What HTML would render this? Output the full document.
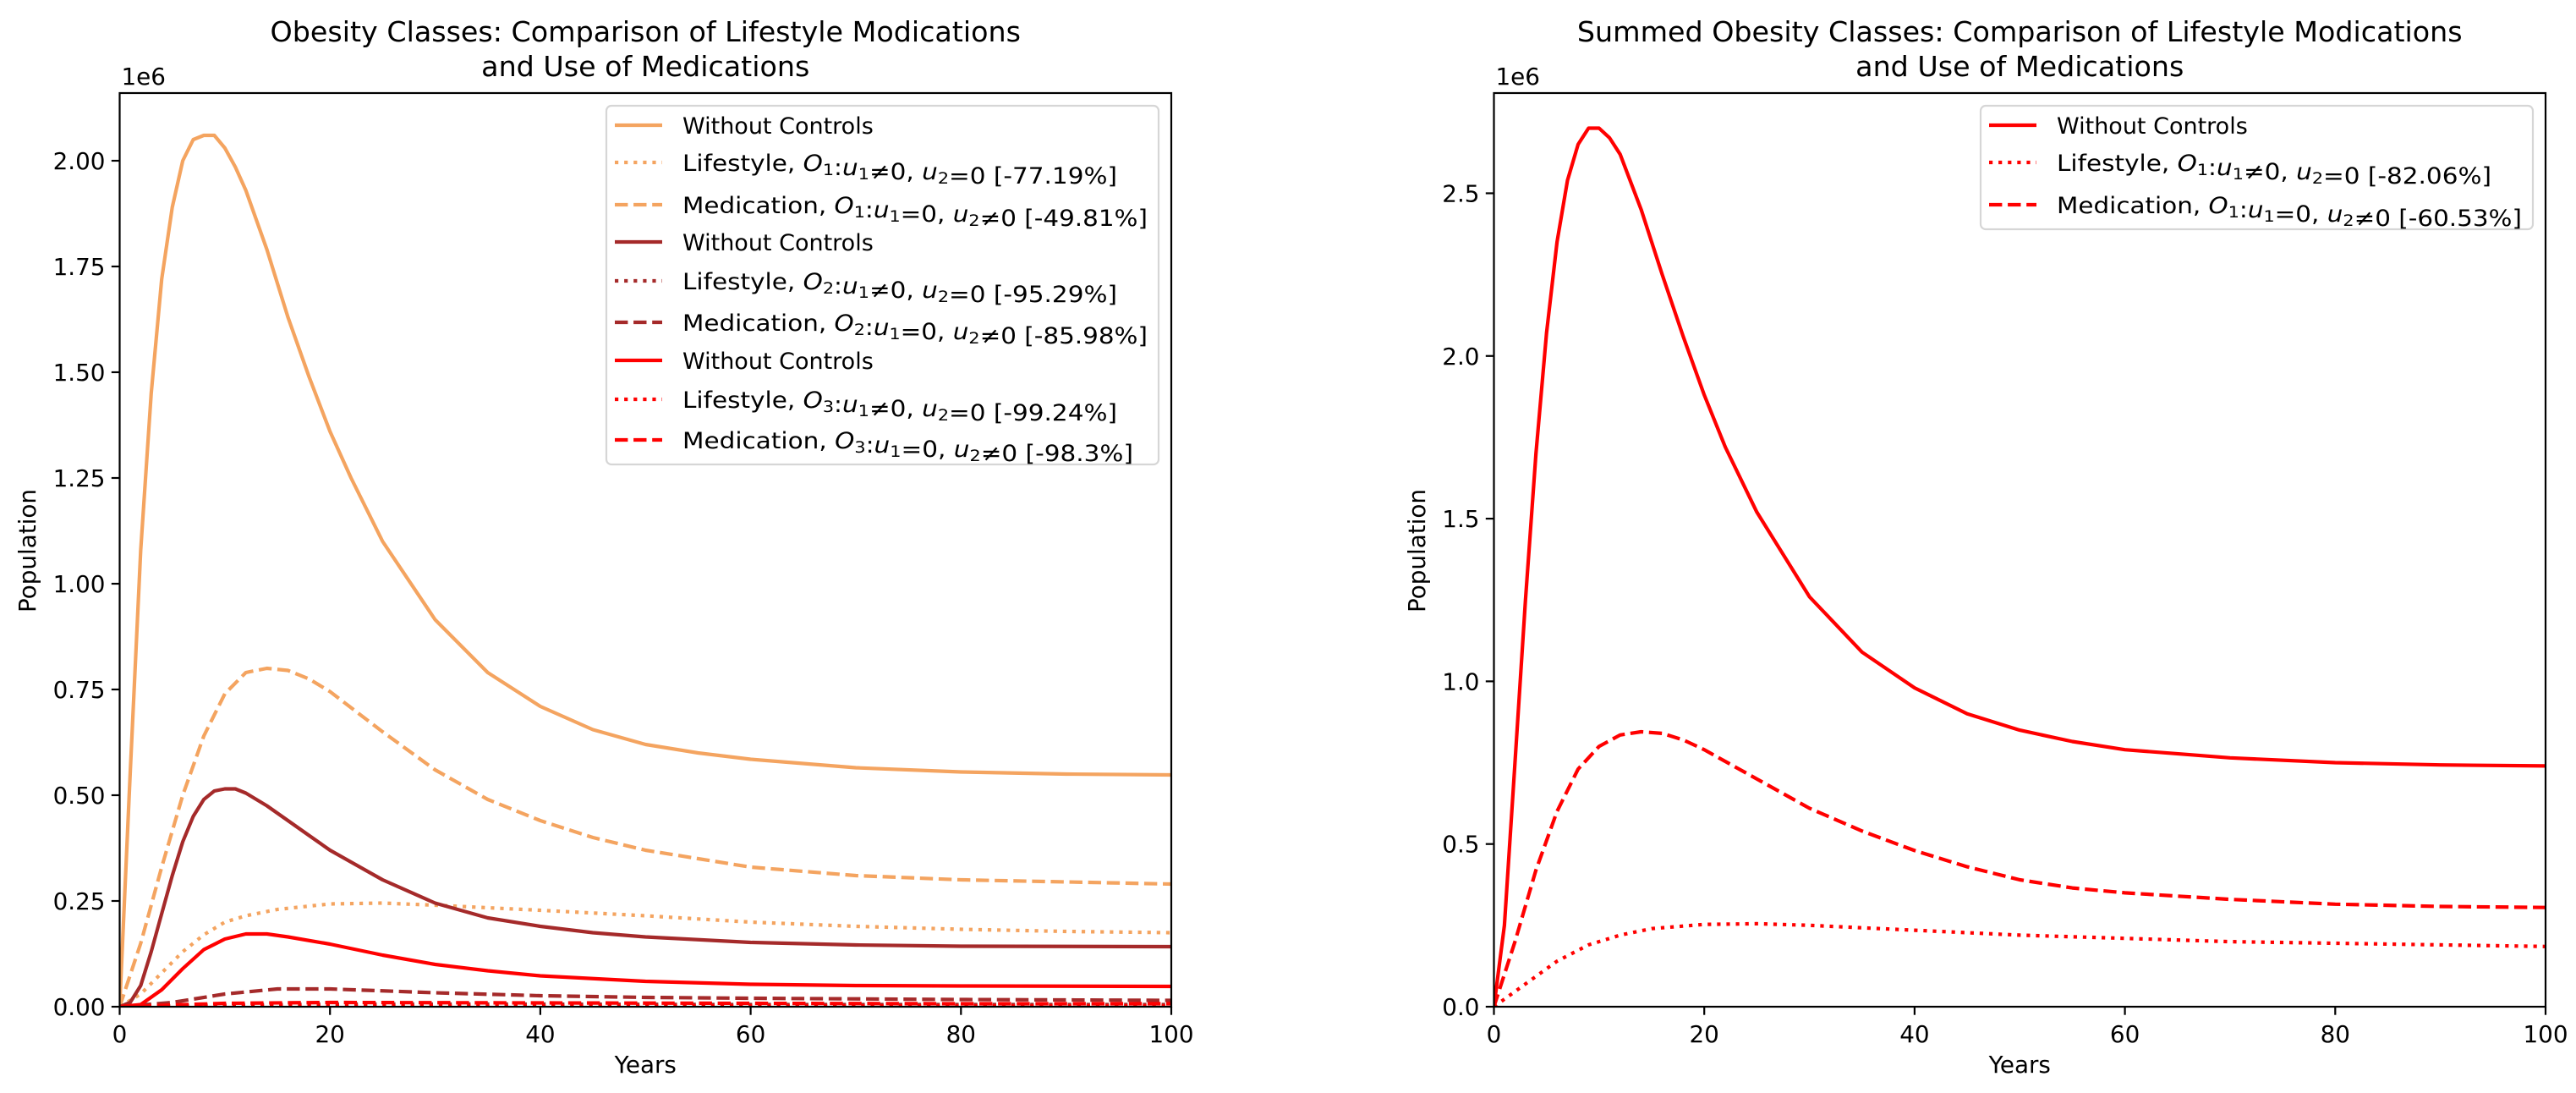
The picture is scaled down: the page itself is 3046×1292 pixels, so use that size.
<!DOCTYPE html>
<html><head><meta charset="utf-8"><style>
html,body{margin:0;padding:0;background:#fff}
svg{display:block;font-family:"DejaVu Sans","Liberation Sans",sans-serif}
</style></head><body>
<svg id="fig" xmlns="http://www.w3.org/2000/svg" width="3046" height="1292" viewBox="0 0 3046 1292">
<rect width="3046" height="1292" fill="#fff"/>
<g id="left"></g>
<g id="right"></g>
</svg>
<script>
// ---- data (population in millions) ----
const yearsO1 = [0,1,2,3,4,5,6,7,8,9,10,11,12,14,16,18,20,22,25,30,35,40,45,50,55,60,70,80,90,100];
const o1None  = [0,0.55,1.08,1.45,1.72,1.89,2.0,2.05,2.06,2.06,2.03,1.985,1.93,1.79,1.63,1.49,1.36,1.25,1.1,0.915,0.79,0.71,0.655,0.62,0.60,0.585,0.565,0.555,0.55,0.548];
const yearsO1Med = [0,2,4,6,8,10,12,14,16,18,20,25,30,35,40,45,50,60,70,80,90,100];
const o1Med   = [0,0.15,0.33,0.5,0.64,0.74,0.79,0.80,0.795,0.775,0.745,0.65,0.56,0.49,0.44,0.40,0.37,0.33,0.31,0.30,0.295,0.29];
const yearsO1Life = [0,2,4,6,8,10,12,15,20,25,30,40,50,60,70,80,90,100];
const o1Life  = [0,0.03,0.08,0.13,0.17,0.20,0.215,0.23,0.243,0.245,0.24,0.228,0.215,0.20,0.19,0.183,0.178,0.175];
const yearsO2 = [0,1,2,3,4,5,6,7,8,9,10,11,12,14,16,18,20,25,30,35,40,45,50,60,70,80,100];
const o2None  = [0,0.01,0.05,0.13,0.22,0.31,0.39,0.45,0.49,0.51,0.515,0.515,0.505,0.475,0.44,0.405,0.37,0.30,0.245,0.21,0.19,0.175,0.165,0.152,0.146,0.143,0.142];
const yearsO2Med = [0,5,10,15,20,30,40,50,60,80,100];
const o2Med   = [0,0.01,0.03,0.042,0.042,0.033,0.026,0.022,0.02,0.017,0.015];
const yearsO2Life = [0,10,20,40,60,80,100];
const o2Life  = [0,0.004,0.006,0.006,0.005,0.005,0.005];
const yearsO3 = [0,2,4,6,8,10,12,14,16,20,25,30,35,40,50,60,70,80,100];
const o3None  = [0,0.005,0.04,0.09,0.135,0.16,0.172,0.172,0.165,0.148,0.122,0.10,0.085,0.073,0.06,0.053,0.05,0.049,0.048];
const yearsO3Med = [0,10,20,40,60,80,100];
const o3Med   = [0,0.008,0.01,0.009,0.008,0.007,0.007];
const yearsO3Life = [0,10,20,40,60,80,100];
const o3Life  = [0,0.002,0.002,0.002,0.002,0.002,0.002];
const yearsSum = [0,1,2,3,4,5,6,7,8,9,10,11,12,14,16,18,20,22,25,30,35,40,45,50,55,60,70,80,90,100];
const sumNone  = [0,0.25,0.75,1.25,1.7,2.07,2.35,2.54,2.65,2.7,2.7,2.67,2.62,2.45,2.25,2.06,1.88,1.72,1.52,1.26,1.09,0.98,0.9,0.85,0.815,0.79,0.765,0.75,0.743,0.74];
const yearsSumMed = [0,2,4,6,8,10,12,14,16,18,20,25,30,35,40,45,50,55,60,70,80,90,100];
const sumMed   = [0,0.2,0.42,0.6,0.73,0.8,0.835,0.845,0.84,0.82,0.79,0.7,0.61,0.54,0.48,0.43,0.39,0.365,0.35,0.33,0.315,0.308,0.305];
const yearsSumLife = [0,3,6,9,12,15,20,25,30,40,50,60,70,80,90,100];
const sumLife  = [0,0.07,0.14,0.19,0.22,0.24,0.253,0.255,0.25,0.235,0.22,0.21,0.2,0.195,0.19,0.185];
const xTicks = [0,20,40,60,80,100];
const leftYTicks = [0,0.25,0.5,0.75,1.0,1.25,1.5,1.75,2.0];
const leftYLabels = ["0.00","0.25","0.50","0.75","1.00","1.25","1.50","1.75","2.00"];
const rightYTicks = [0,0.5,1.0,1.5,2.0,2.5];
const rightYLabels = ["0.0","0.5","1.0","1.5","2.0","2.5"];

const NS="http://www.w3.org/2000/svg";
function mk(tag,attrs,parent){const e=document.createElementNS(NS,tag);for(const k in attrs)e.setAttribute(k,attrs[k]);parent.appendChild(e);return e;}
const STY={solid:"",dash:"15.4,6.7",dot:"4.2,6.9"};

function chart(g,o){
  const L=o.left,R=o.left+1243.5,T=110,B=1190;
  const sx=v=>L+(v-0)/(100-0)*(R-L);
  const sy=v=>B-v/o.ymax*(B-T);
  const t=mk("text",{x:(L+R)/2,y:49,"text-anchor":"middle","font-size":"33.3"},g);
  
  
  mk("tspan",{x:(L+R)/2,dy:0},t).textContent=o.title1;
  mk("tspan",{x:(L+R)/2,dy:41},t).textContent="and Use of Medications";
  const cid="clip"+o.id;
  const cp=mk("clipPath",{id:cid},g);mk("rect",{x:L,y:T,width:R-L,height:B-T},cp);
  const sg=mk("g",{"clip-path":"url(#"+cid+")"},g);
  
  
  o.series.forEach(s=>{
    const d=s.x.map((xv,i)=>(i?"L":"M")+sx(xv).toFixed(1)+","+sy(s.y[i]).toFixed(1)).join("");
    const p=mk("path",{d:d,fill:"none",stroke:s.c,"stroke-width":4.2,"stroke-linejoin":"round","stroke-linecap":s.st==="solid"?"square":"butt"},sg);
    if(STY[s.st])p.setAttribute("stroke-dasharray",STY[s.st]);
    
    
  });
  const sp=mk("rect",{x:L,y:T,width:R-L,height:B-T,fill:"none",stroke:"#000","stroke-width":2.2},g);
  
  
  xTicks.forEach(v=>{
    const x=sx(v);
    mk("line",{x1:x,x2:x,y1:B,y2:B+9.7,stroke:"#000","stroke-width":2.2},g);
    const tl=mk("text",{x:x,y:B+42,"text-anchor":"middle","font-size":"27.8"},g);
    
    
    tl.textContent=v;
  });
  o.yt.forEach((v,i)=>{
    const y=sy(v);
    mk("line",{x1:L-9.7,x2:L,y1:y,y2:y,stroke:"#000","stroke-width":2.2},g);
    const tl=mk("text",{x:L-17,y:y+10,"text-anchor":"end","font-size":"27.8"},g);
    
    
    tl.textContent=o.yl[i];
  });
  const e6=mk("text",{x:L+2,y:100,"font-size":"27.8"},g);
  
  
  e6.textContent="1e6";
  const xl=mk("text",{x:(L+R)/2,y:1268,"text-anchor":"middle","font-size":"27.8"},g);
  
  
  xl.textContent="Years";
  const yl=mk("text",{x:0,y:0,"text-anchor":"middle","font-size":"27.8",transform:"translate("+(o.ylx)+",651) rotate(-90)"},g);
  
  
  yl.textContent="Population";
  const lg=mk("g",{},g);
  
  
  mk("rect",{x:o.lg.x,y:125,width:o.lg.w,height:o.lg.h,rx:6,fill:"#fff","fill-opacity":0.8,stroke:"#d6d6d6","stroke-width":2.2},lg);
  o.series.forEach((s,i)=>{
    const y=o.lg.rows[i];
    const hx=o.lg.x+10;
    const hl=mk("line",{x1:hx,x2:hx+56,y1:y,y2:y,stroke:s.c,"stroke-width":4.2,"stroke-linecap":"butt"},lg);
    if(STY[s.st])hl.setAttribute("stroke-dasharray",STY[s.st]);
    const tx=mk("text",{x:hx+80,y:y+10,"font-size":"27"},lg);
    
    
    if(s.st==="solid"){tx.textContent="Without Controls";}
    else{
      const life=s.st==="dot";
      const parts=[[life?"Lifestyle, ":"Medication, ",""],["O","i"],[s.k,"s"],[":",""],["u","i"],["1","s"],[life?"\u22600, ":"=0, ",""],["u","i"],["2","s"],[life?"=0 ":"\u22600 ",""],["["+s.pct+"]",""]];
      parts.forEach(p=>{
        const ts=mk("tspan",{},tx);
        if(p[1]==="i")ts.setAttribute("font-style","italic");
        if(p[1]==="s"){ts.setAttribute("font-size","19");ts.setAttribute("dy","5");}
        ts.textContent=p[0];
        if(p[1]==="s"){const r=mk("tspan",{dy:"-5"},tx);r.textContent="";}
      });
      tx.setAttribute("textLength",s.tl);
      tx.setAttribute("lengthAdjust","spacingAndGlyphs");
    }
  });
}

chart(document.getElementById("left"),{id:"L",left:141.5,ymax:2.16,title1:"Obesity Classes: Comparison of Lifestyle Modications",ylx:42,
  yt:leftYTicks,yl:leftYLabels,
  lg:{x:717,w:653,h:424,rows:[148,192,242,286,332,381,426,472,520]},
  series:[
    {x:yearsO1,y:o1None,c:"#f4a460",st:"solid",name:"o1-without-controls-line"},
    {x:yearsO1Life,y:o1Life,c:"#f4a460",st:"dot",k:"1",pct:"-77.19%",tl:514,name:"o1-lifestyle-line"},
    {x:yearsO1Med,y:o1Med,c:"#f4a460",st:"dash",k:"1",pct:"-49.81%",tl:550,name:"o1-medication-line"},
    {x:yearsO2,y:o2None,c:"#a52a2a",st:"solid",name:"o2-without-controls-line"},
    {x:yearsO2Life,y:o2Life,c:"#a52a2a",st:"dot",k:"2",pct:"-95.29%",tl:514,name:"o2-lifestyle-line"},
    {x:yearsO2Med,y:o2Med,c:"#a52a2a",st:"dash",k:"2",pct:"-85.98%",tl:550,name:"o2-medication-line"},
    {x:yearsO3,y:o3None,c:"#ff0000",st:"solid",name:"o3-without-controls-line"},
    {x:yearsO3Life,y:o3Life,c:"#ff0000",st:"dot",k:"3",pct:"-99.24%",tl:514,name:"o3-lifestyle-line"},
    {x:yearsO3Med,y:o3Med,c:"#ff0000",st:"dash",k:"3",pct:"-98.3%",tl:533,name:"o3-medication-line"}
  ]});
chart(document.getElementById("right"),{id:"R",left:1766.5,ymax:2.808,title1:"Summed Obesity Classes: Comparison of Lifestyle Modications",ylx:1685,
  yt:rightYTicks,yl:rightYLabels,
  lg:{x:2342,w:653,h:146,rows:[148,192,242]},
  series:[
    {x:yearsSum,y:sumNone,c:"#ff0000",st:"solid",name:"sum-without-controls-line"},
    {x:yearsSumLife,y:sumLife,c:"#ff0000",st:"dot",k:"1",pct:"-82.06%",tl:514,name:"sum-lifestyle-line"},
    {x:yearsSumMed,y:sumMed,c:"#ff0000",st:"dash",k:"1",pct:"-60.53%",tl:550,name:"sum-medication-line"}
  ]});
</script>
</body></html>
